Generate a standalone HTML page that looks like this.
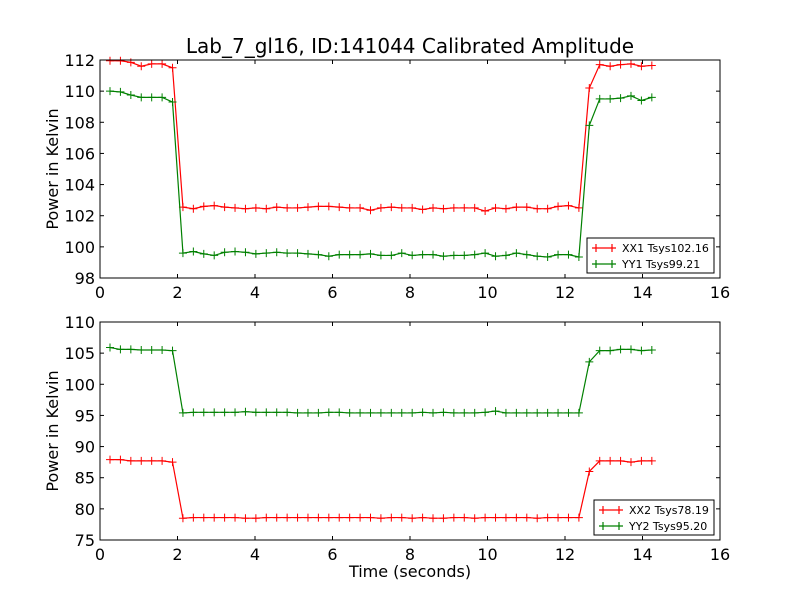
<!DOCTYPE html>
<html><head><meta charset="utf-8"><style>
body{margin:0;background:#fff;}
svg{display:block;font-family:"DejaVu Sans","Liberation Sans",sans-serif;}
</style></head><body>
<svg id="chart" width="800" height="600"></svg>
<script>
const times = Array.from({length:53},(_, i)=>0.258+i*0.2689);
const xx1 = [111.95,111.95,111.85,111.6,111.75,111.75,111.5,
 102.55,102.45,102.6,102.65,102.55,102.5,102.45,102.5,102.45,102.55,
 102.5,102.5,102.55,102.6,102.6,102.55,102.5,102.5,102.35,102.5,
 102.55,102.5,102.5,102.4,102.5,102.45,102.5,102.5,102.5,102.3,
 102.5,102.45,102.55,102.55,102.45,102.45,102.6,102.65,102.5,
 110.2,111.7,111.6,111.7,111.75,111.6,111.65];
const yy1 = [110.0,109.95,109.75,109.6,109.6,109.6,109.3,
 99.6,99.7,99.55,99.45,99.65,99.7,99.65,99.55,99.6,99.65,
 99.6,99.6,99.55,99.5,99.4,99.5,99.5,99.5,99.55,99.45,
 99.45,99.6,99.45,99.5,99.5,99.4,99.45,99.45,99.5,99.6,
 99.4,99.45,99.6,99.5,99.4,99.35,99.5,99.5,99.35,
 107.8,109.5,109.5,109.55,109.7,109.4,109.6];
const xx2 = [87.9,87.9,87.7,87.7,87.7,87.7,87.5,
 78.5,78.6,78.6,78.6,78.6,78.6,78.5,78.5,78.6,78.6,
 78.6,78.6,78.6,78.6,78.6,78.6,78.6,78.6,78.6,78.5,
 78.6,78.6,78.5,78.6,78.5,78.5,78.6,78.6,78.5,78.6,
 78.6,78.6,78.6,78.6,78.5,78.6,78.6,78.6,78.6,
 86.0,87.7,87.7,87.7,87.5,87.7,87.7];
const yy2 = [105.9,105.6,105.6,105.5,105.5,105.5,105.4,
 95.4,95.5,95.5,95.5,95.5,95.5,95.6,95.5,95.5,95.5,
 95.5,95.4,95.4,95.4,95.5,95.5,95.4,95.4,95.4,95.4,
 95.4,95.4,95.4,95.5,95.4,95.5,95.4,95.4,95.4,95.5,
 95.7,95.4,95.4,95.4,95.4,95.4,95.4,95.4,95.4,
 103.6,105.4,105.4,105.6,105.6,105.4,105.5];
const xTicks=[0,2,4,6,8,10,12,14,16];
const yTicksTop=[98,100,102,104,106,108,110,112];
const yTicksBot=[75,80,85,90,95,100,105,110];
const svg=document.getElementById('chart');
const NS='http://www.w3.org/2000/svg';
function mk(tag,attrs,parent){const e=document.createElementNS(NS,tag);for(const k in attrs)e.setAttribute(k,attrs[k]);(parent||svg).appendChild(e);return e;}
function txt(s,attrs,parent){const e=mk('text',attrs,parent);e.textContent=s;return e;}
const t=txt('Lab_7_gl16, ID:141044 Calibrated Amplitude',{x:410,y:53,'text-anchor':'middle','font-size':20});


function panel(top,bot,ymin,ymax,yt,series,names,legBox,pname){
  const L=100,R=720;
  const g=mk('g',{});
  
  
  const sx=v=>L+(v-0)/16*(R-L);
  const sy=v=>bot-(v-ymin)/(ymax-ymin)*(bot-top);
  xTicks.forEach(v=>{const x=sx(v);mk('line',{x1:x,x2:x,y1:bot,y2:bot-4,stroke:'#000'},g);mk('line',{x1:x,x2:x,y1:top,y2:top+4,stroke:'#000'},g);
    const l=txt(String(v),{x:x,y:bot+20,'text-anchor':'middle','font-size':16},g);
    
    });
  yt.forEach(v=>{const y=sy(v);mk('line',{x1:L,x2:L+4,y1:y,y2:y,stroke:'#000'},g);mk('line',{x1:R,x2:R-4,y1:y,y2:y,stroke:'#000'},g);
    const l=txt(String(v),{x:L-5,y:y+6,'text-anchor':'end','font-size':16},g);
    
    });
  const yl=txt('Power in Kelvin',{x:0,y:0,'text-anchor':'middle','font-size':16,transform:`translate(58,${(top+bot)/2}) rotate(-90)`},g);
  
  
  series.forEach((s,k)=>{
    const col=k==0?'#ff0000':'#008000';
    const pts=times.map((t,i)=>sx(t)+','+sy(s[i])).join(' ');
    const pl=mk('polyline',{points:pts,fill:'none',stroke:col,'stroke-width':1.2},g);
    
    
    times.forEach((t,i)=>{const x=sx(t),y=sy(s[i]);
      mk('path',{d:`M${x-4},${y}H${x+4}M${x},${y-4}V${y+4}`,stroke:col,'stroke-width':1},g);});
  });
  const fr=mk('rect',{x:L,y:top,width:R-L,height:bot-top,fill:'none',stroke:'#000','stroke-width':1},g);
  
  
  const lg=mk('g',{},g);
  
  
  mk('rect',{x:legBox[0],y:legBox[1],width:legBox[2],height:35,fill:'#fff',stroke:'#000'},lg);
  names.forEach((n,k)=>{const col=k==0?'#ff0000':'#008000';const y=legBox[1]+10+k*16;const x0=legBox[0]+5;
    mk('path',{d:`M${x0},${y}H${x0+24}M${x0+4},${y-4}V${y+4}M${x0+20},${y-4}V${y+4}`,stroke:col,'stroke-width':1.2},lg);
    const e=txt(n,{x:x0+30,y:y+4,'font-size':11},lg);
    
    });
}
panel(60,278,98,112,yTicksTop,[xx1,yy1],['XX1 Tsys102.16','YY1 Tsys99.21'],[587,238,127],'top-panel');
panel(322,540,75,110,yTicksBot,[xx2,yy2],['XX2 Tsys78.19','YY2 Tsys95.20'],[594,500,120],'bottom-panel');
const xl=txt('Time (seconds)',{x:410,y:577,'text-anchor':'middle','font-size':16});


</script>
</body></html>
